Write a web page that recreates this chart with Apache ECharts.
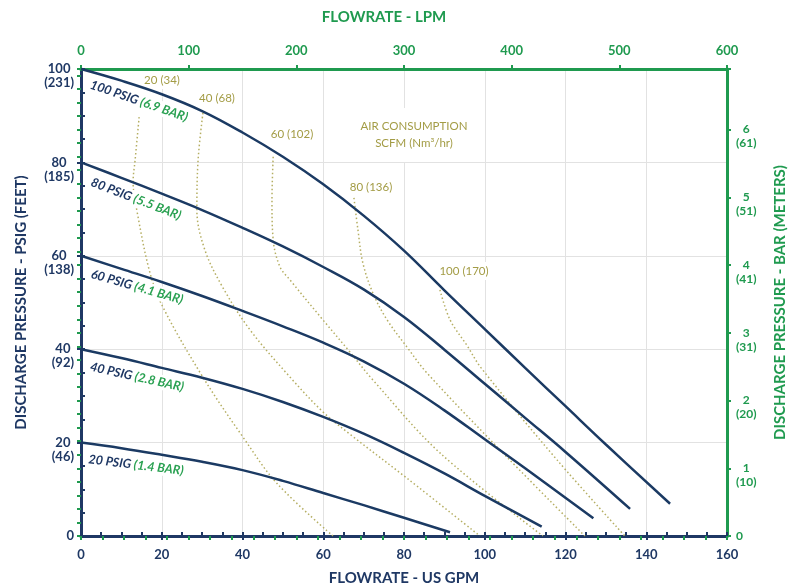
<!DOCTYPE html>
<html><head><meta charset="utf-8">
<script src="https://cdn.jsdelivr.net/npm/echarts@6/dist/echarts.min.js"></script>
<style>html,body{margin:0;padding:0;background:#fff}#c{width:798px;height:588px}</style>
</head><body><div id="c"></div>
<script>
// ---------------- data ----------------
const psiTicks   = [0, 20, 40, 60, 80, 100];
const feetTicks  = ['', '(46)', '(92)', '(138)', '(185)', '(231)'];
const barTicks   = [0, 1, 2, 3, 4, 5, 6];
const meterTicks = ['', '(10)', '(20)', '(31)', '(41)', '(51)', '(61)'];

// performance curves [US GPM, PSIG]
const curve100 = [[0,100],[10,97.5],[20,94.6],[30,91.0],[40,86.4],[50,81.2],[60,75.3],[70,68.6],[80,61.1],[90,52.6],[100,44.3],[110,36.0],[120,27.8],[130,19.6],[145.9,6.9]];
const curve80  = [[0,80],[10,76.7],[20,73.3],[30,69.8],[40,66.0],[50,62.0],[60,57.6],[70,52.8],[80,46.9],[90,39.9],[100,32.6],[110,25.3],[120,18.0],[136,5.8]];
const curve60  = [[0,60],[10,57.2],[20,54.4],[30,51.4],[40,48.2],[50,44.9],[60,41.4],[70,37.4],[80,32.6],[90,26.9],[100,20.7],[110,14.5],[126.9,3.8]];
const curve40  = [[0,40],[10,38.1],[20,36.0],[30,33.9],[40,31.5],[50,28.7],[60,25.5],[70,21.9],[80,17.8],[90,13.4],[100,8.6],[114.1,2.0]];
const curve20  = [[0,20],[10,18.8],[20,17.4],[30,15.9],[40,14.1],[50,11.8],[60,9.2],[70,6.6],[80,3.9],[91.4,0.8]];

// air consumption curves [US GPM, PSIG]
const air20  = [[14.4,89.7],[13.4,80.5],[12.9,75.8],[13.9,69.4],[17.1,56.3],[20.3,49.0],[30.2,34.0],[40.1,21.2],[48.5,11.3],[62.4,0]];
const air40  = [[30.2,90.6],[29.0,80.5],[28.7,69.8],[30.7,61.2],[35.2,53.1],[41.9,44.1],[51.8,34.0],[59.9,26.6],[66.6,21.8],[80.7,12.4],[98.8,0]];
const air60  = [[47.6,81.2],[47.3,71.9],[47.6,63.4],[49.3,57.6],[51.8,54.8],[59.9,46.3],[66.6,39.4],[72.3,33.4],[88.9,17.8],[114.4,0]];
const air80  = [[67.6,72.4],[68.6,65.5],[69.8,58.5],[72.3,52.0],[75.8,46.3],[80.7,40.5],[85.7,34.9],[105.5,16.9],[124.8,0]];
const air100 = [[88.9,52.7],[91.4,46.3],[95.6,40.8],[99.1,36.0],[117.9,16.3],[134.7,0]];

const pressureNames = ['100 PSIG', '80 PSIG', '60 PSIG', '40 PSIG', '20 PSIG'];
const barNames      = ['(6.9 BAR)', '(5.5 BAR)', '(4.1 BAR)', '(2.8 BAR)', '(1.4 BAR)'];
const airNames      = ['20 (34)', '40 (68)', '60 (102)', '80 (136)', '100 (170)'];
const airTitle      = ['AIR CONSUMPTION', 'SCFM (Nm³/hr)'];

// ---------------- styling / layout ----------------
const NAVY = '#1f3864', GREEN = '#1f9a4f', LGREEN = '#2aa152', CURVE = '#1b3a63';
const OLIVE = '#a39c45', DOT = '#b5ae62', GRID = '#e2e2e2';
const FONT = 'Lato';
const PSI_PER_BAR = 14.5038;

const solidCurves = [curve100, curve80, curve60, curve40, curve20];
const airCurves = [air20, air40, air60, air80, air100];

const psigLabelPos = [[139,101,19],[136,199,21],[137,287,16],[137,377,12.5],[136,465,7]];
const airLabelPos = [[162,80],[217,98],[292,134],[371,187],[464,271]];

const chart = echarts.init(document.getElementById('c'), null, {renderer:'canvas'});

function richAxis(color, size){
  const s = {color: color, fontFamily: FONT, fontWeight: 'bold', fontSize: size, lineHeight: 14, align: 'center'};
  return {a: s, b: Object.assign({}, s)};
}

const series = [];
airCurves.forEach((d, i) => series.push({
  name: 'air' + airNames[i], type: 'line', data: d, xAxisIndex: 0, yAxisIndex: 0,
  smooth: 0.35, symbol: 'none', silent: true, z: 2,
  lineStyle: {color: DOT, width: 1.5, type: [1.5, 2.5]}
}));
solidCurves.forEach((d, i) => series.push({
  name: pressureNames[i], type: 'line', data: d, xAxisIndex: 0, yAxisIndex: 0,
  smooth: 0.4, symbol: 'none', silent: true, z: 3,
  lineStyle: {color: CURVE, width: 2.5}
}));

const graphics = [];
psigLabelPos.forEach((p, i) => graphics.push({
  type: 'text', x: p[0], y: p[1], rotation: -p[2] * Math.PI / 180, z: 100,
  style: {
    text: '{a|' + pressureNames[i] + '} {b|' + barNames[i] + '}',
    rich: {
      a: {fill: NAVY, fontFamily: FONT, fontWeight: 'bold', fontStyle: 'italic', fontSize: 12.5},
      b: {fill: LGREEN, fontFamily: FONT, fontWeight: 'bold', fontStyle: 'italic', fontSize: 12.5}
    },
    font: 'italic bold 12.5px ' + FONT,
    align: 'center', verticalAlign: 'middle',
    backgroundColor: '#fff', padding: [1, 2]
  }
}));
airLabelPos.forEach((p, i) => graphics.push({
  type: 'text', x: p[0], y: p[1], z: 2.5,
  style: {text: airNames[i], fill: OLIVE, font: '11.5px ' + FONT,
    align: 'center', verticalAlign: 'middle', backgroundColor: '#fff', padding: [3, 6]}
}));
graphics.push({
  type: 'text', x: 414, y: 135, z: 2.5,
  style: {text: airTitle.join('\n'), fill: OLIVE, font: '11.5px ' + FONT, lineHeight: 17,
    align: 'center', verticalAlign: 'middle', backgroundColor: '#fff', padding: [10, 16]}
});

const option = {
  animation: false,
  backgroundColor: '#fff',
  grid: {left: 81, right: 71, top: 69, bottom: 52, containLabel: false, outerBoundsMode: 'none'},
  xAxis: [
    { // bottom main
      type: 'value', min: 0, max: 160, interval: 20, position: 'bottom',
      name: 'FLOWRATE - US GPM', nameLocation: 'middle', nameGap: 35, nameMoveOverlap: false,
      nameTextStyle: {color: NAVY, fontFamily: FONT, fontWeight: 'bold', fontSize: 15},
      axisLine: {show: true, onZero: false, lineStyle: {color: NAVY, width: 3}},
      axisTick: {show: true, inside: false, length: 4, lineStyle: {color: NAVY, width: 2}},
      axisLabel: {color: NAVY, fontFamily: FONT, fontWeight: 'bold', fontSize: 13, margin: 12},
      splitLine: {show: true, lineStyle: {color: GRID, width: 1}}
    },
    { // top main (LPM)
      type: 'value', min: 0, max: 600, interval: 100, position: 'top',
      name: 'FLOWRATE - LPM', nameLocation: 'middle', nameGap: 44, nameMoveOverlap: false,
      nameTextStyle: {color: GREEN, fontFamily: FONT, fontWeight: 'bold', fontSize: 15, padding: [0, 40, 0, 0]},
      axisLine: {show: true, onZero: false, lineStyle: {color: GREEN, width: 3}},
      axisTick: {show: true, inside: false, length: 4, lineStyle: {color: GREEN, width: 2}},
      axisLabel: {color: GREEN, fontFamily: FONT, fontWeight: 'bold', fontSize: 13, margin: 12},
      splitLine: {show: false}
    },
    { // bottom minor ticks
      type: 'value', min: 0, max: 160, interval: 5, position: 'bottom',
      axisLine: {show: false}, axisLabel: {show: false}, splitLine: {show: false},
      axisTick: {show: true, inside: true, length: 4, lineStyle: {color: NAVY, width: 2}}
    },
    { // top minor ticks
      type: 'value', min: 0, max: 600, interval: 20, position: 'top',
      axisLine: {show: false}, axisLabel: {show: false}, splitLine: {show: false},
      axisTick: {show: true, inside: true, length: 4, lineStyle: {color: GREEN, width: 2}}
    }
  ],
  yAxis: [
    { // left main (PSIG)
      type: 'value', min: 0, max: 100, interval: 20, position: 'left',
      name: 'DISCHARGE PRESSURE - PSIG (FEET)', nameLocation: 'middle', nameRotate: 90, nameGap: 52, nameMoveOverlap: false,
      nameTextStyle: {color: NAVY, fontFamily: FONT, fontWeight: 'bold', fontSize: 15},
      axisLine: {show: true, onZero: false, lineStyle: {color: NAVY, width: 3}},
      axisTick: {show: true, inside: false, length: 4, lineStyle: {color: NAVY, width: 2}},
      axisLabel: {
        margin: 7, padding: [14, 0, 0, 0], rich: richAxis(NAVY, 13),
        formatter: v => { const i = psiTicks.indexOf(v); if (i < 0) return ''; return '{a|' + v + '}\n{b|' + (feetTicks[i] || ' ') + '}'; }
      },
      splitLine: {show: true, lineStyle: {color: GRID, width: 1}}
    },
    { // right main (BAR)
      type: 'value', min: 0, max: 100 / PSI_PER_BAR, interval: 1, position: 'right',
      name: 'DISCHARGE PRESSURE - BAR (METERS)', nameLocation: 'middle', nameRotate: 90, nameGap: 46, nameMoveOverlap: false,
      nameTextStyle: {color: GREEN, fontFamily: FONT, fontWeight: 'bold', fontSize: 15},
      axisLine: {show: true, onZero: false, lineStyle: {color: GREEN, width: 3}},
      axisTick: {show: true, inside: false, length: 4, lineStyle: {color: GREEN, width: 2}},
      axisLabel: {
        margin: 9, padding: [14, 0, 0, 0], rich: richAxis(GREEN, 12),
        formatter: v => { const i = barTicks.indexOf(v); if (i < 0) return ''; return '{a|' + v + '}\n{b|' + (meterTicks[i] || ' ') + '}'; }
      },
      splitLine: {show: false}
    },
    { // left minor ticks
      type: 'value', min: 0, max: 100, interval: 5, position: 'left',
      axisLine: {show: false}, axisLabel: {show: false}, splitLine: {show: false},
      axisTick: {show: true, inside: true, length: 4, lineStyle: {color: NAVY, width: 2}}
    },
    { // right minor ticks
      type: 'value', min: 0, max: 100 / PSI_PER_BAR, interval: 0.2, position: 'right',
      axisLine: {show: false}, axisLabel: {show: false}, splitLine: {show: false},
      axisTick: {show: true, inside: true, length: 4, lineStyle: {color: GREEN, width: 2}}
    }
  ],
  series: series,
  graphic: graphics
};
chart.setOption(option);
</script>
</body></html>
